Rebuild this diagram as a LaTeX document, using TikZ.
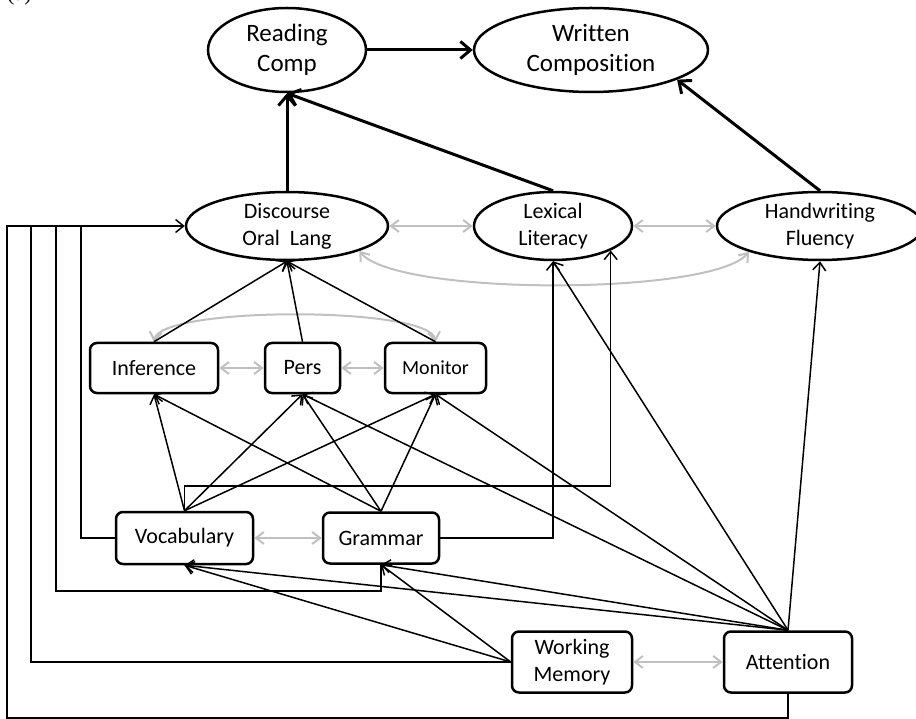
\documentclass[tikz,border=0pt]{standalone}
\usepackage{fontspec}
\setmainfont{Carlito}[Ligatures=NoCommon]
\newfontfamily\tagfont{Liberation Serif}
\usetikzlibrary{shapes.geometric,arrows.meta}

\definecolor{linkgray}{RGB}{192,192,192}

\tikzset{
  construct/.style={ellipse, draw, fill=white, line width=2.5pt, inner sep=0pt, align=center,
    font=\fontsize{22}{27}\selectfont},
  outcome/.style={construct, font=\fontsize{25}{30}\selectfont},
  skill/.style={rectangle, rounded corners=7pt, draw, fill=white, line width=2.5pt, inner sep=0pt,
    align=center, font=\fontsize{22}{27}\selectfont},
  thinpath/.style={line width=1.5pt, -{Straight Barb[length=8pt,width=13pt]}},
  mainpath/.style={line width=3pt, -{Straight Barb[length=10pt,width=17pt]}},
  corr/.style={linkgray, line width=2pt,
    {Straight Barb[length=8pt,width=12pt]}-{Straight Barb[length=8pt,width=12pt]}},
  bus/.style={line width=1.5pt},
}

\begin{document}
\begin{tikzpicture}[x=1pt, y=-1pt]
\useasboundingbox (0,0) rectangle (916,719);

% panel tag
\node[anchor=base west, inner sep=0pt, font=\tagfont\fontsize{22}{26}\selectfont] (tag) at (7,1) {(a)};

% outcomes
\node[outcome, minimum width=158pt, minimum height=84pt] (rc) at (287,50) {Reading\\Comp};
\node[outcome, minimum width=234pt, minimum height=84pt] (wc) at (591,50) {Written\\Composition};

% intermediate constructs
\node[construct, minimum width=202pt, minimum height=68pt] (dol) at (287,226) {Discourse\\Oral\ \ Lang};
\node[construct, minimum width=158pt, minimum height=68pt] (ll) at (553,226) {Lexical\\Literacy};
\node[construct, minimum width=206pt, minimum height=68pt] (hf) at (820,226) {Handwriting\\Fluency};

% higher-order skills
\node[skill, minimum width=128pt, minimum height=50pt] (inf) at (154,368) {Inference};
\node[skill, minimum width=75pt, minimum height=50pt] (pers) at (302.5,368) {Pers};
\node[skill, minimum width=101pt, minimum height=50pt, font=\fontsize{20}{24}\selectfont] (mon) at (435.5,368) {Monitor};

% foundational skills
\node[skill, minimum width=137pt, minimum height=52pt] (voc) at (184.5,538) {Vocabulary};
\node[skill, minimum width=116pt, minimum height=51pt] (gra) at (381,538) {Grammar};
\node[skill, minimum width=120pt, minimum height=61pt] (wm) at (572,662) {Working\\Memory};
\node[skill, minimum width=128pt, minimum height=61pt] (att) at (788,662) {Attention};

% bus columns on the left feeding Discourse Oral Lang
\coordinate (busA) at (7,226);
\coordinate (busB) at (31,226);
\coordinate (busC) at (56,226);
\coordinate (busD) at (81,226);

% main paths
\draw[mainpath] (rc) -- (wc);
\draw[mainpath] (dol.north) -- (rc.south);
\draw[mainpath] (ll.north) -- (rc.south);
\draw[mainpath] (hf.north) -- (wc.-19);

% correlations
\draw[corr] (dol.east) -- (ll.west);
\draw[corr] (ll.east) -- (hf.west);
\draw[corr] (dol.-19) .. controls (395,296) and (712,296) .. (hf.-160);
\draw[corr] (inf.east) -- (pers.west);
\draw[corr] (pers.east) -- (mon.west);
\draw[corr] (inf.north) .. controls (160,306) and (430,306) .. (mon.north);
\draw[corr] (voc.east) -- (gra.west);
\draw[corr] (wm.east) -- (att.west);

% higher-order skills to discourse
\draw[thinpath] (inf.north) -- (dol.south);
\draw[thinpath] (pers.north) -- (dol.south);
\draw[thinpath] (mon.north) -- (dol.south);

% vocabulary and grammar to higher-order skills
\foreach \src in {voc,gra}{
  \draw[thinpath] (\src.north) -- (inf.south);
  \draw[thinpath] (\src.north) -- (pers.south);
  \draw[thinpath] (\src.north) -- (mon.south);
}

% vocabulary and grammar to lexical literacy
\draw[thinpath] (voc.north) -- ++(0,-25) -| (ll.-23);
\draw[thinpath] (gra.east) -| (ll.south);

% attention
\draw[thinpath] (att.north) -- (hf.south);
\draw[thinpath] (att.north) -- (ll.south);
\draw[thinpath] (att.north) -- (mon.south);
\draw[thinpath] (att.north) -- (pers.south);
\draw[thinpath] (att.north) -- (gra.south);
\draw[thinpath] (att.north) -- (voc.south);

% working memory
\draw[thinpath] (wm.west) -- (voc.south);
\draw[thinpath] (wm.west) -- (gra.south);

% direct paths to discourse routed along the left
\draw[bus] (voc.west) -| (busD);
\draw[bus] (gra.south) -- ++(0,26) -| (busC);
\draw[bus] (wm.west) -| (busB);
\draw[thinpath] (att.south) -- ++(0,24) -| (busA) -- (dol.west);
\end{tikzpicture}
\end{document}
